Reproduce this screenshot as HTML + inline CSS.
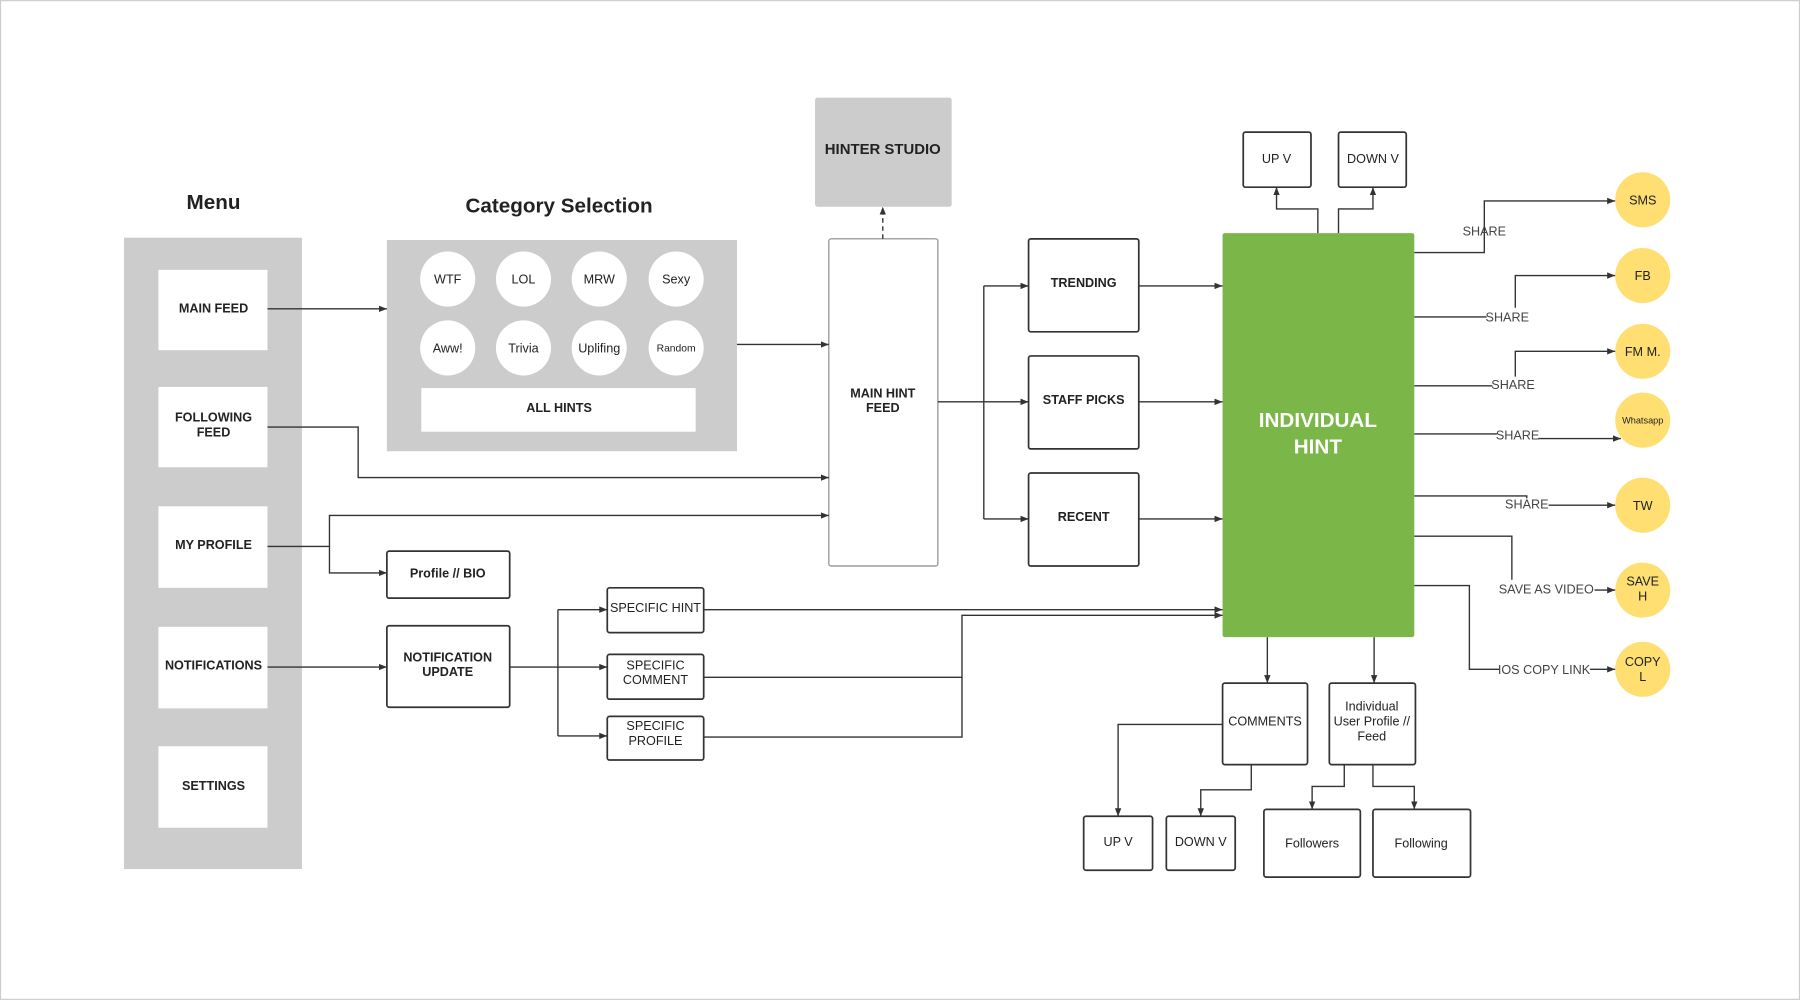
<!DOCTYPE html>
<html><head><meta charset="utf-8"><style>
html,body{margin:0;padding:0;background:#fff;}
svg{display:block;}
text{font-family:"Liberation Sans",Arial,sans-serif;fill:#222;}
.b{font-weight:bold;}
</style></head><body>
<svg width="1800" height="1000" viewBox="0 0 1568 871" xmlns="http://www.w3.org/2000/svg">
<defs>
<marker id="a" viewBox="0 0 10 10" refX="10" refY="5" markerWidth="7" markerHeight="7" orient="auto-start-reverse" markerUnits="userSpaceOnUse"><path d="M0,1 L10,5 L0,9 z" fill="#333"/></marker>
</defs>
<rect x="0.5" y="0.5" width="1567" height="870" fill="#fff" stroke="#ccc"/>
<!-- Menu -->
<text x="186" y="182" font-size="18" class="b" text-anchor="middle">Menu</text>
<rect x="108" y="207" width="155" height="550" fill="#ccc"/>
<g fill="#fff">
<rect x="138" y="235" width="95" height="70"/><rect x="138" y="337" width="95" height="70"/>
<rect x="138" y="441" width="95" height="71"/><rect x="138" y="546" width="95" height="71"/>
<rect x="138" y="650" width="95" height="71"/>
</g>
<g font-size="11" class="b" text-anchor="middle">
<text x="186" y="272" class="b">MAIN FEED</text>
<text x="186" y="367" class="b">FOLLOWING</text><text x="186" y="380" class="b">FEED</text>
<text x="186" y="478" class="b">MY PROFILE</text>
<text x="186" y="583" class="b">NOTIFICATIONS</text>
<text x="186" y="688" class="b">SETTINGS</text>
</g>
<!-- Category -->
<text x="487" y="185" font-size="18" class="b" text-anchor="middle">Category Selection</text>
<rect x="337" y="209" width="305" height="184" fill="#ccc"/>
<g fill="#fff"><circle cx="390" cy="243" r="24"/><circle cx="456" cy="243" r="24"/><circle cx="522" cy="243" r="24"/><circle cx="589" cy="243" r="24"/>
<circle cx="390" cy="303" r="24"/><circle cx="456" cy="303" r="24"/><circle cx="522" cy="303" r="24"/><circle cx="589" cy="303" r="24"/>
<rect x="367" y="338" width="239" height="38"/></g>
<g font-size="11" text-anchor="middle">
<text x="390" y="247">WTF</text><text x="456" y="247">LOL</text><text x="522" y="247">MRW</text><text x="589" y="247">Sexy</text>
<text x="390" y="307">Aww!</text><text x="456" y="307">Trivia</text><text x="522" y="307">Uplifing</text><text x="589" y="306" font-size="9">Random</text>
<text x="487" y="359" class="b">ALL HINTS</text>
</g>
<!-- Studio -->
<rect x="710" y="85" width="119" height="95" fill="#ccc" rx="2"/>
<text x="769" y="134" font-size="13" class="b" text-anchor="middle">HINTER STUDIO</text>
<!-- boxes -->
<g fill="#fff" stroke="#333" stroke-width="1.5">
<rect x="722" y="208" width="95" height="285" rx="2" stroke="#888" stroke-width="1"/>
<rect x="896" y="208" width="96" height="81" rx="2"/>
<rect x="896" y="310" width="96" height="81" rx="2"/>
<rect x="896" y="412" width="96" height="81" rx="2"/>
<rect x="1083" y="115" width="59" height="48" rx="2"/>
<rect x="1166" y="115" width="59" height="48" rx="2"/>
<rect x="337" y="480" width="107" height="41" rx="2"/>
<rect x="337" y="545" width="107" height="71" rx="2"/>
<rect x="529" y="512" width="84" height="39" rx="2"/>
<rect x="529" y="570" width="84" height="39" rx="2"/>
<rect x="529" y="624" width="84" height="38" rx="2"/>
<rect x="1065" y="595" width="74" height="71" rx="2"/>
<rect x="1158" y="595" width="75" height="71" rx="2"/>
<rect x="944" y="711" width="60" height="47" rx="2"/>
<rect x="1016" y="711" width="60" height="47" rx="2"/>
<rect x="1101" y="705" width="84" height="59" rx="2"/>
<rect x="1196" y="705" width="85" height="59" rx="2"/>
</g>
<rect x="1065" y="203" width="167" height="352" fill="#7ab648" rx="2"/>
<text x="1148" y="372" font-size="18" class="b" text-anchor="middle" style="fill:#fff">INDIVIDUAL</text>
<text x="1148" y="395" font-size="18" class="b" text-anchor="middle" style="fill:#fff">HINT</text>
<g font-size="11" text-anchor="middle">
<text x="769" y="346" class="b">MAIN HINT</text><text x="769" y="359" class="b">FEED</text>
<text x="944" y="250" class="b">TRENDING</text>
<text x="944" y="352" class="b">STAFF PICKS</text>
<text x="944" y="454" class="b">RECENT</text>
<text x="1112" y="142">UP V</text><text x="1196" y="142">DOWN V</text>
<text x="390" y="503" class="b">Profile // BIO</text>
<text x="390" y="576" class="b">NOTIFICATION</text><text x="390" y="589" class="b">UPDATE</text>
<text x="571" y="533">SPECIFIC HINT</text>
<text x="571" y="583">SPECIFIC</text><text x="571" y="596">COMMENT</text>
<text x="571" y="636">SPECIFIC</text><text x="571" y="649">PROFILE</text>
<text x="1102" y="632">COMMENTS</text>
<text x="1195" y="619">Individual</text><text x="1195" y="632">User Profile //</text><text x="1195" y="645">Feed</text>
<text x="974" y="737">UP V</text><text x="1046" y="737">DOWN V</text>
<text x="1143" y="738">Followers</text><text x="1238" y="738">Following</text>
</g>
<!-- circles -->
<g fill="#ffdf71">
<circle cx="1431" cy="174" r="24"/><circle cx="1431" cy="240" r="24"/><circle cx="1431" cy="306" r="24"/><circle cx="1431" cy="366" r="24"/>
<circle cx="1431" cy="440" r="24"/><circle cx="1431" cy="514" r="24"/><circle cx="1431" cy="583" r="24"/>
</g>
<g font-size="11" text-anchor="middle">
<text x="1431" y="178">SMS</text><text x="1431" y="244">FB</text><text x="1431" y="310">FM M.</text>
<text x="1431" y="369" font-size="8">Whatsapp</text><text x="1431" y="444">TW</text>
<text x="1431" y="510">SAVE</text><text x="1431" y="523">H</text>
<text x="1431" y="580">COPY</text><text x="1431" y="593">L</text>
</g>
<!-- connectors -->
<g fill="none" stroke="#333" stroke-width="1.2">
<path d="M233,269H337" marker-end="url(#a)"/>
<path d="M233,372H312V416H722" marker-end="url(#a)"/>
<path d="M233,476H287V449H722" marker-end="url(#a)"/>
<path d="M287,476V499H337" marker-end="url(#a)"/>
<path d="M233,581H337" marker-end="url(#a)"/>
<path d="M642,300H722" marker-end="url(#a)"/>
<path d="M769,208V180" stroke-dasharray="4,3" marker-end="url(#a)"/>
<path d="M817,350H857"/>
<path d="M857,249V452"/>
<path d="M857,249H896" marker-end="url(#a)"/>
<path d="M857,350H896" marker-end="url(#a)"/>
<path d="M857,452H896" marker-end="url(#a)"/>
<path d="M992,249H1065" marker-end="url(#a)"/>
<path d="M992,350H1065" marker-end="url(#a)"/>
<path d="M992,452H1065" marker-end="url(#a)"/>
<path d="M444,581H486"/>
<path d="M486,531V641"/>
<path d="M486,531H529" marker-end="url(#a)"/>
<path d="M486,581H529" marker-end="url(#a)"/>
<path d="M486,641H529" marker-end="url(#a)"/>
<path d="M613,531H1065" marker-end="url(#a)"/>
<path d="M613,590H838V536H1065" marker-end="url(#a)"/>
<path d="M613,642H838V590"/>
<path d="M1148,203V182H1112V163" marker-end="url(#a)"/>
<path d="M1166,203V182H1196V163" marker-end="url(#a)"/>
<path d="M1104,555V595" marker-end="url(#a)"/>
<path d="M1197,555V595" marker-end="url(#a)"/>
<path d="M1065,631H974V711" marker-end="url(#a)"/>
<path d="M1090,666V688H1046V711" marker-end="url(#a)"/>
<path d="M1171,666V685H1143V705" marker-end="url(#a)"/>
<path d="M1196,666V685H1232V705" marker-end="url(#a)"/>
<path d="M1232,220H1293V194M1293,207V207M1293,194V175H1407" marker-end="url(#a)"/>
<path d="M1232,276H1295"/>
<path d="M1320,268V240H1407" marker-end="url(#a)"/>
<path d="M1232,336H1300"/>
<path d="M1320,328V306H1407" marker-end="url(#a)"/>
<path d="M1232,378H1304"/>
<path d="M1340,382H1412" marker-end="url(#a)"/>
<path d="M1232,432H1330V434"/>
<path d="M1349,440H1407" marker-end="url(#a)"/>
<path d="M1232,467H1317V505"/>
<path d="M1389,514H1407" marker-end="url(#a)"/>
<path d="M1232,510H1280V583H1306"/>
<path d="M1385,583H1407" marker-end="url(#a)"/>
</g>
<g font-size="11" text-anchor="middle" style="fill:#444">
<text x="1293" y="205" style="fill:#444">SHARE</text>
<text x="1313" y="280" style="fill:#444">SHARE</text>
<text x="1318" y="339" style="fill:#444">SHARE</text>
<text x="1322" y="383" style="fill:#444">SHARE</text>
<text x="1330" y="443" style="fill:#444">SHARE</text>
<text x="1347" y="517" style="fill:#444">SAVE AS VIDEO</text>
<text x="1345" y="587" style="fill:#444">IOS COPY LINK</text>
</g>
</svg>
</body></html>
